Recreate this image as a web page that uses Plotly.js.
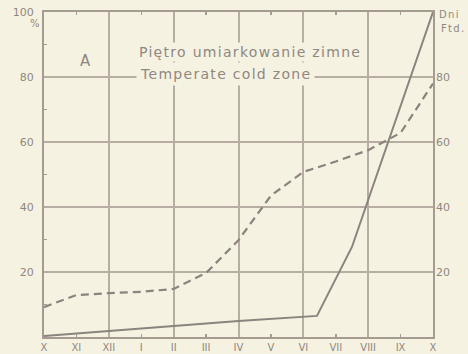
<!DOCTYPE html>
<html><head><meta charset="utf-8">
<script src="https://cdn.plot.ly/plotly-3.0.1.min.js"></script>
<style>
html,body{margin:0;padding:0;background:#f6f2e1;} #chart{width:468px;height:354px;}
.annotation-text{letter-spacing:1.3px;}
</style>
</head><body><div id="chart"></div>
<script>
const monthLabels = ['X','XI','XII','I','II','III','IV','V','VI','VII','VIII','IX','X'];
const monthPos = [0,1,2,3,4,5,6,7,8,9,10,11,12];
const gridMonths = [2,4,6,8,10];
const oddMonths = [1,3,5,7,9,11];
const solidX = [0, 6, 8.42, 9.5, 12];
const solidY = [0.3, 4.9, 6.5, 27.7, 100];
const dashedX = monthPos;
const dashedY = [9.2, 12.9, 13.5, 13.9, 14.8, 19.7, 29.8, 43.5, 50.8, 54, 57.5, 62.8, 78];
const leftTicks = [20,40,60,80,100];
const rightTicks = [20,40,60,80];
const minorY = [10,30,50,70,90];

const bg = '#f6f2e1';
const lineCol = '#8a837e';
const gridCol = '#b8ada2';
const frameCol = '#a59b91';
const textCol = '#8e8882';
const font = 'DejaVu Sans, sans-serif';

const traces = [
  {x: solidX, y: solidY, mode:'lines', line:{color:lineCol, width:2}, hoverinfo:'skip'},
  {x: dashedX, y: dashedY, mode:'lines', line:{color:lineCol, width:2.2, dash:'8px,5px'}, hoverinfo:'skip'},
  {x: [], y: [], xaxis:'x2', yaxis:'y', mode:'lines', hoverinfo:'skip'},
  {x: [], y: [], xaxis:'x', yaxis:'y2', mode:'lines', hoverinfo:'skip'}
];

const layout = {
  width:468, height:354,
  margin:{l:44, r:35, t:12, b:17},
  paper_bgcolor:bg, plot_bgcolor:bg,
  showlegend:false,
  font:{family:font, color:textCol},
  xaxis:{
    range:[0,12], tickmode:'array', tickvals:monthPos, ticktext:monthLabels,
    showgrid:false, ticks:'', zeroline:false,
    showline:true, mirror:true, linecolor:frameCol, linewidth:2,
    tickfont:{size:10, color:textCol},
    minor:{tickmode:'array', tickvals:gridMonths, showgrid:true, gridcolor:gridCol, gridwidth:2, ticks:''}
  },
  xaxis2:{
    overlaying:'x', anchor:'y', range:[0,12], tickmode:'array', tickvals:oddMonths,
    ticks:'inside', ticklen:3, tickwidth:1.5, tickcolor:frameCol, mirror:'allticks',
    showline:false, showgrid:false, showticklabels:false, zeroline:false
  },
  yaxis:{
    range:[0,100], tickmode:'array', tickvals:leftTicks,
    showgrid:true, gridcolor:gridCol, gridwidth:2, ticks:'', zeroline:false,
    showline:true, mirror:true, linecolor:frameCol, linewidth:2,
    tickfont:{size:11, color:textCol}, ticklabelstandoff:6,
    minor:{tickmode:'array', tickvals:minorY, ticks:'inside', ticklen:3, tickwidth:1.5, tickcolor:frameCol, showgrid:false}
  },
  yaxis2:{
    overlaying:'y', side:'right', anchor:'x', range:[0,100], tickmode:'array', tickvals:rightTicks,
    showgrid:false, ticks:'', zeroline:false, showline:false,
    tickfont:{size:11, color:textCol}, ticklabelstandoff:2
  },
  annotations:[
    {text:'A', xref:'x', yref:'y', x:1.3, y:85, showarrow:false, font:{size:15, color:textCol}},
    {text:'Piętro umiarkowanie zimne', xref:'x', yref:'y', x:6.35, y:87.7, showarrow:false,
     font:{size:14, color:textCol}, bgcolor:bg, borderpad:1},
    {text:'Temperate cold zone', xref:'x', yref:'y', x:5.6, y:80.9, showarrow:false,
     font:{size:14, color:textCol}, bgcolor:bg, borderpad:3},
    {text:'%', xref:'paper', yref:'y', x:-0.04, y:96.5, showarrow:false, font:{size:10, color:textCol}},
    {text:'Dni', xref:'paper', yref:'y', x:1.01, xanchor:'left', y:99.3, showarrow:false, font:{size:10, color:textCol}},
    {text:'Ftd.', xref:'paper', yref:'y', x:1.015, xanchor:'left', y:95, showarrow:false, font:{size:10, color:textCol}}
  ]
};

Plotly.newPlot('chart', traces, layout, {displayModeBar:false, staticPlot:true});
</script>
</body></html>
